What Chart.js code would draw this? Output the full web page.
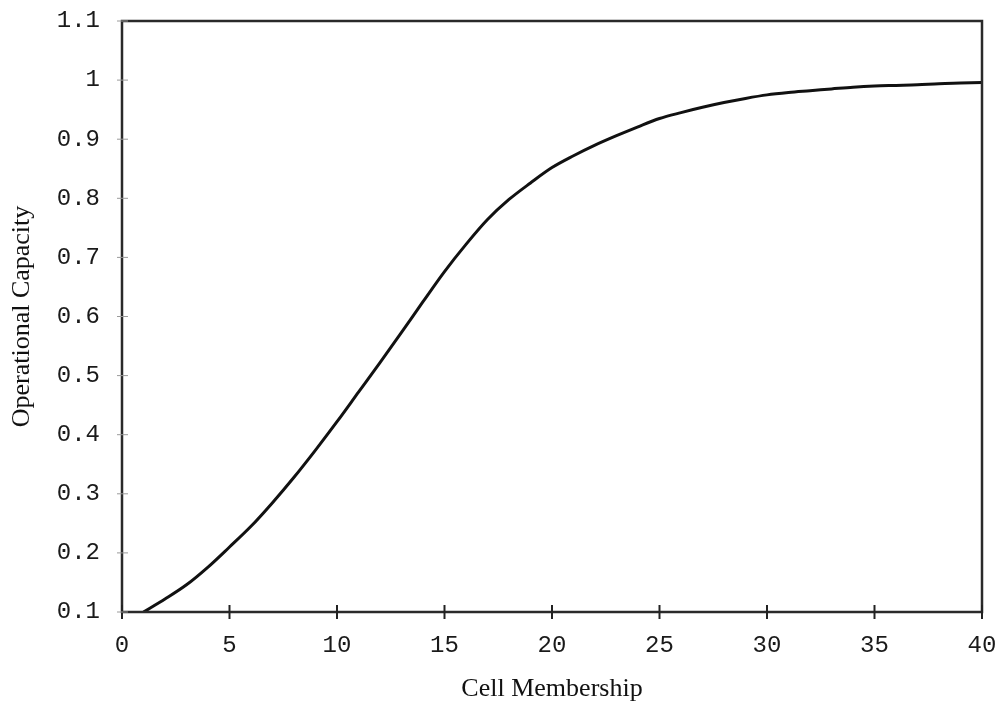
<!DOCTYPE html>
<html>
<head>
<meta charset="utf-8">
<script src="https://cdn.jsdelivr.net/npm/chart.js@4/dist/chart.umd.min.js"></script>
<style>
    html, body { margin: 0; padding: 0; background: #fff; }
    #wrap { width: 1000px; height: 702px; }
</style>
</head>
<body>
<div id="wrap"><canvas id="capacityChart" width="1000" height="702"></canvas></div>
<script>
// values
const cellMembership = [1, 2, 3, 4, 5, 6, 7, 8, 9, 10, 11, 12, 13, 14, 15, 16, 17, 18, 19, 20,
    21, 22, 23, 24, 25, 26, 27, 28, 29, 30, 31, 32, 33, 34, 35, 36, 37, 38, 39, 40];
const operationalCapacity = [0.100, 0.122, 0.146, 0.176, 0.210, 0.245, 0.285, 0.328, 0.374, 0.422,
    0.472, 0.522, 0.573, 0.625, 0.676, 0.722, 0.764, 0.798, 0.826, 0.852,
    0.872, 0.890, 0.906, 0.921, 0.935, 0.945, 0.954, 0.962, 0.969, 0.975,
    0.979, 0.982, 0.985, 0.988, 0.990, 0.991, 0.992, 0.994, 0.995, 0.996];
const xTickLabels = ['0', '5', '10', '15', '20', '25', '30', '35', '40'];
const yTickLabels = ['0.1', '0.2', '0.3', '0.4', '0.5', '0.6', '0.7', '0.8', '0.9', '1', '1.1'];

const points = cellMembership.map((x, i) => ({ x: x, y: operationalCapacity[i] }));

// frame around the plot area plus tick marks that cross the axes
const framePlugin = {
    id: 'frame',
    afterDraw: chart => {
        const ctx = chart.ctx;
        const area = chart.chartArea;
        const xs = chart.scales.x;
        const ys = chart.scales.y;
        ctx.save();
        ctx.strokeStyle = '#2a2a2a';
        ctx.lineWidth = 2.5;
        ctx.strokeRect(area.left, area.top, area.right - area.left, area.bottom - area.top);

        ctx.lineWidth = 2;
        ctx.strokeStyle = '#222';
        xs.ticks.forEach(t => {
            const px = xs.getPixelForValue(t.value);
            ctx.beginPath();
            ctx.moveTo(px, area.bottom - 7);
            ctx.lineTo(px, area.bottom + 7);
            ctx.stroke();
        });

        ctx.lineWidth = 1;
        ctx.strokeStyle = '#9a9a9a';
        ys.ticks.forEach(t => {
            const py = ys.getPixelForValue(t.value);
            ctx.beginPath();
            ctx.moveTo(area.left - 5, py);
            ctx.lineTo(area.left + 6, py);
            ctx.stroke();
        });
        ctx.restore();
    }
};

const ctx = document.getElementById('capacityChart').getContext('2d');

new Chart(ctx, {
    type: 'line',
    data: {
        datasets: [{
            label: 'Operational Capacity',
            data: points,
            borderColor: '#111',
            borderWidth: 3,
            pointRadius: 0,
            cubicInterpolationMode: 'monotone',
            fill: false,
        }],
    },
    options: {
        responsive: false,
        animation: false,
        layout: {
            padding: { left: 0, right: 18, top: 21, bottom: 0 },
        },
        plugins: {
            legend: { display: false },
            tooltip: { enabled: false },
        },
        scales: {
            x: {
                type: 'linear',
                min: 0,
                max: 40,
                border: { display: false },
                grid: { display: false, drawTicks: false },
                ticks: {
                    stepSize: 5,
                    padding: 19,
                    maxRotation: 0,
                    color: '#1a1a1a',
                    font: { family: 'Liberation Mono', size: 24 },
                    callback: function (value, index) {
                        return xTickLabels[index];
                    },
                },
                title: {
                    display: true,
                    text: 'Cell Membership',
                    color: '#111',
                    font: { family: 'Liberation Serif', size: 26, lineHeight: 1 },
                    padding: { top: 0, bottom: 0 },
                },
                afterFit: scale => {
                    scale.height = 90;
                    scale.paddingLeft = 0;
                    scale.paddingRight = 0;
                },
            },
            y: {
                min: 0.1,
                max: 1.1,
                border: { display: false },
                grid: { display: false, drawTicks: false },
                ticks: {
                    stepSize: 0.1,
                    padding: 22,
                    color: '#1a1a1a',
                    font: { family: 'Liberation Mono', size: 24 },
                    callback: function (value, index) {
                        return yTickLabels[index];
                    },
                },
                title: {
                    display: true,
                    text: 'Operational Capacity',
                    color: '#111',
                    font: { family: 'Liberation Serif', size: 26, lineHeight: 1 },
                    padding: { top: 9, bottom: 0 },
                },
                afterFit: scale => {
                    scale.width = 122;
                    scale.paddingTop = 0;
                    scale.paddingBottom = 0;
                },
            },
        },
    },
    plugins: [framePlugin],
});
</script>
</body>
</html>
